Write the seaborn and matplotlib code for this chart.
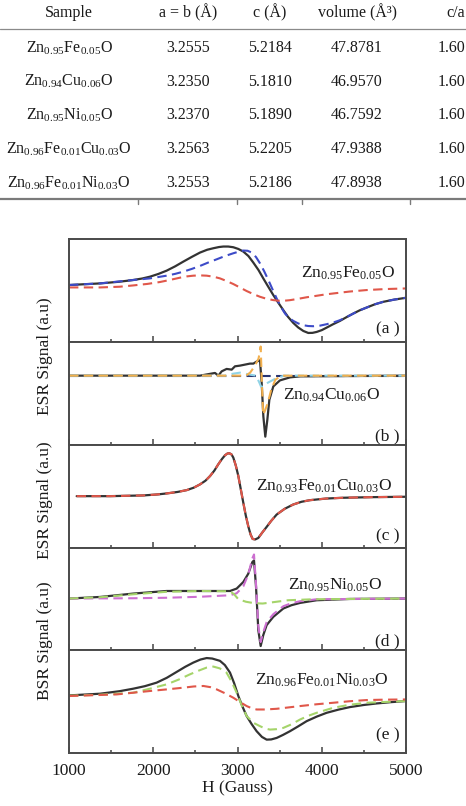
import matplotlib
matplotlib.use('Agg')
import matplotlib.pyplot as plt
from matplotlib.lines import Line2D
import seaborn as sns

# ---------------- table data ----------------
table_headers = ['Sample', 'a = b (Å)', 'c (Å)', 'volume (Å³)', 'c/a']
table_samples = [r'$\mathrm{Zn_{0.95}Fe_{0.05}O}$',
                 r'$\mathrm{Zn_{0.94}Cu_{0.06}O}$',
                 r'$\mathrm{Zn_{0.95}Ni_{0.05}O}$',
                 r'$\mathrm{Zn_{0.96}Fe_{0.01}Cu_{0.03}O}$',
                 r'$\mathrm{Zn_{0.96}Fe_{0.01}Ni_{0.03}O}$']
table_ab = ['3.2555', '3.2350', '3.2370', '3.2563', '3.2553']
table_c = ['5.2184', '5.1810', '5.1890', '5.2205', '5.2186']
table_vol = ['47.8781', '46.9570', '46.7592', '47.9388', '47.8938']
table_ca = ['1.60', '1.60', '1.60', '1.60', '1.60']

# ---------------- ESR data (H in Gauss, signal in a.u.) ----------------
# (a) Zn0.95Fe0.05O
a_H_exp = [1000, 1368, 1600, 1763, 1870, 1961, 2060, 2159, 2260, 2357, 2460, 2555, 2640,
           2713, 2780, 2832, 2890, 2950, 3010, 3069, 3130, 3188, 3250, 3306, 3365, 3425,
           3485, 3544, 3600, 3662, 3720, 3781, 3840, 3890, 3939, 4000, 4058, 4130, 4216,
           4300, 4374, 4450, 4533, 4630, 4731, 4860, 5000]
a_exp = [56.7, 58.3, 60, 61.7, 63.2, 65, 67.7, 71, 75.3, 80, 84.8, 89, 91.8,
         93.3, 94.5, 95, 95, 94.3, 92.6, 90, 85.5, 79, 71.5, 63.3, 55, 46.7,
         39, 31.7, 25, 19, 14.5, 11, 9, 9.1, 10, 11.8, 14.3, 17.5, 21,
         25, 28.3, 31.5, 34.3, 37.5, 40, 42.2, 44]
a_H_fit1 = [1000, 1368, 1763, 1961, 2159, 2260, 2357, 2460, 2555, 2650, 2753, 2850, 2950,
            3010, 3069, 3120, 3168, 3220, 3267, 3316, 3366, 3415, 3465, 3515, 3564, 3612,
            3662, 3720, 3781, 3840, 3900, 3980, 4058, 4140, 4216, 4300, 4374, 4450, 4533,
            4630, 4731, 4860, 5000]
a_fit1 = [56.7, 58.3, 61.7, 63.3, 66, 67.8, 70, 72.8, 75.7, 79, 82.3, 85.5, 88.3,
          89.8, 91, 90.8, 89, 84.5, 78.3, 70.5, 61.7, 52.5, 43.3, 35, 28.3, 24,
          21, 18.5, 16.7, 15.9, 15.7, 16.3, 17.7, 19.5, 21.7, 25, 28.3, 31.5, 34.3,
          37.5, 40, 42.2, 44]
a_H_fit2 = [1000, 1368, 1600, 1763, 1930, 2080, 2200, 2317, 2400, 2476, 2555, 2634, 2715,
            2792, 2870, 2950, 3030, 3109, 3190, 3267, 3345, 3425, 3485, 3544, 3620, 3702,
            3820, 3939, 4040, 4137, 4330, 4533, 4760, 5000]
a_fit2 = [54.3, 54.3, 55, 56.3, 57.8, 59.7, 61.8, 64, 65.3, 66, 66.3, 66, 65,
          63.3, 60.7, 57.7, 54.2, 50.7, 47.6, 45, 43, 41.7, 41.1, 41, 41.6, 42.7,
          44.5, 46, 47.3, 48.3, 50.2, 51.7, 52.7, 53.3]

# (b) Zn0.94Cu0.06O
b_H_exp = [1000, 2555, 2733, 2773, 2812, 2871, 2931, 2970, 3030, 3089, 3148, 3188, 3227,
           3267, 3287, 3307, 3330, 3354, 3378, 3425, 3504, 3623, 3742, 5000]
b_exp = [69, 69, 71.7, 69, 73.3, 75.7, 75, 78.3, 79, 80, 81, 81, 83,
         84.3, 61.7, 28.3, 8.3, 25, 45, 58.3, 64.3, 67.3, 68.3, 69]
b_H_sum = [1000, 5000]
b_sum = [69, 69]
b_H_fit1 = [1000, 3100, 3150, 3200, 3250, 3275, 3290, 3305, 3330, 3360, 3400, 3450, 3520, 5000]
b_fit1 = [69, 69, 72, 78, 86, 98, 60, 30, 35, 42, 55, 65, 69, 69]
b_H_fit2 = [1000, 2850, 2950, 3030, 3150, 3220, 3260, 3280, 3310, 3360, 3450, 3550, 5000]
b_fit2 = [69, 69, 71, 72, 70, 69, 62, 58, 58, 62, 66, 69, 69]

# (c) Zn0.93Fe0.01Cu0.03O
c_H_exp = [1091, 1487, 1882, 2050, 2160, 2290, 2397, 2480, 2555, 2620, 2674, 2725, 2772,
           2815, 2852, 2880, 2903, 2928, 2950, 2980, 3010, 3040, 3069, 3098, 3128, 3155,
           3180, 3210, 3247, 3295, 3346, 3400, 3465, 3560, 3662, 3760, 3860, 4050, 4256,
           4600, 5000]
c_exp = [51.6, 51.6, 52.3, 53.3, 54.3, 55.8, 57.6, 60, 63.3, 67, 71.6, 77, 83.3,
         88.5, 92.3, 94, 94.3, 93.2, 90, 82, 71.6, 58, 45, 32.5, 21.6, 13.5,
         9, 8.5, 10, 15.5, 21, 27, 33.3, 39, 43.3, 46, 47.6, 49.2, 50,
         50.6, 51]

# (d) Zn0.95Ni0.05O
d_H_exp = [1000, 1368, 1763, 2159, 2555, 2911, 2990, 3069, 3128, 3176, 3196, 3220, 3247,
           3275, 3306, 3346, 3425, 3544, 3640, 3742, 3940, 4335, 5000]
d_exp = [51.7, 53.3, 56.7, 59.3, 59.3, 59.3, 61.7, 68.3, 76.7, 88.3, 90, 63.3, 20,
         4, 15, 25, 33.3, 41.7, 45, 47.3, 50, 51.3, 51.7]
d_H_fit1 = [1000, 1763, 2159, 2555, 2911, 2990, 3069, 3128, 3176, 3196, 3220, 3247, 3275,
            3306, 3346, 3425, 3544, 3640, 3742, 3940, 5000]
d_fit1 = [51.7, 52, 52.5, 53.5, 55, 57, 64, 76, 92, 96, 66, 24, 8,
          18, 28, 36, 44, 47, 49, 51, 51.7]
d_H_fit2 = [1000, 1368, 1763, 2159, 2555, 2911, 2960, 3010, 3100, 3200, 3300, 3420, 3600,
            3900, 5000]
d_fit2 = [51.7, 53, 56, 58.5, 59.3, 59, 56, 51, 48.5, 47, 46.7, 48, 50, 51, 51.7]

# (e) Zn0.96Fe0.01Ni0.03O
e_H_exp = [1000, 1368, 1600, 1763, 1900, 2040, 2160, 2278, 2380, 2476, 2560, 2634, 2700,
           2792, 2850, 2911, 2960, 3010, 3060, 3109, 3170, 3227, 3290, 3346, 3400, 3465,
           3540, 3623, 3720, 3821, 3940, 4058, 4200, 4335, 4500, 4651, 4820, 5000]
e_exp = [57.3, 59, 61.5, 64, 66.5, 70, 74.8, 80.7, 85.8, 90, 93, 94.5, 94,
         91.7, 87.5, 80, 69.5, 56.7, 46, 36.7, 28.5, 21.7, 16, 13.3, 13.5, 15,
         18, 21.7, 26.5, 31.7, 36.2, 40, 43.2, 45.7, 47.8, 49.3, 50.6, 51.7]
e_H_fit1 = [1000, 1368, 1763, 1961, 2159, 2300, 2436, 2540, 2634, 2713, 2790, 2870, 2930,
            2990, 3050, 3109, 3190, 3267, 3330, 3386, 3460, 3544, 3640, 3742, 3840, 3939,
            4137, 4330, 4533, 5000]
e_fit1 = [57, 58, 60, 64, 68.3, 73, 78.3, 82, 85, 86, 84.2, 80, 71,
          60, 47.5, 36.7, 30, 26.7, 24.3, 23.3, 23.7, 25, 28.5, 33.3, 37, 40,
          45, 48, 50, 51.7]
e_H_fit2 = [1000, 1565, 1961, 2160, 2357, 2480, 2595, 2680, 2753, 2850, 2950, 3030, 3109,
            3170, 3227, 3330, 3465, 3600, 3742, 3939, 4137, 4330, 4533, 4760, 5000]
e_fit2 = [56.7, 58.3, 61.7, 63.3, 65, 66.2, 66.7, 65.5, 63.3, 59.5, 55, 50.7, 46.7,
          44.5, 43.3, 43.3, 44, 45.3, 46.7, 48.5, 50, 51.5, 52.7, 53.1, 53.3]

sample_labels = [r'$\mathrm{Zn_{0.95}Fe_{0.05}O}$',
                 r'$\mathrm{Zn_{0.94}Cu_{0.06}O}$',
                 r'$\mathrm{Zn_{0.93}Fe_{0.01}Cu_{0.03}O}$',
                 r'$\mathrm{Zn_{0.95}Ni_{0.05}O}$',
                 r'$\mathrm{Zn_{0.96}Fe_{0.01}Ni_{0.03}O}$']
panel_letters = ['(a )', '(b )', '(c )', '(d )', '(e )']
x_ticks = [1000, 2000, 3000, 4000, 5000]
y_labels = ['ESR Signal (a.u)', 'ESR Signal (a.u)', 'BSR Signal (a.u)']

# ---------------- style ----------------
sns.set_theme(style='white')
plt.rcParams['font.family'] = ['Liberation Serif', 'DejaVu Serif']
plt.rcParams['mathtext.fontset'] = 'custom'
plt.rcParams['mathtext.rm'] = 'Liberation Serif'
plt.rcParams['mathtext.it'] = 'Liberation Serif:italic'
plt.rcParams['mathtext.bf'] = 'Liberation Serif:bold'

W, H = 466, 806
fig = plt.figure(figsize=(W / 100, H / 100), dpi=100)
fig.patch.set_facecolor('white')

def fy(py):
    return 1 - py / H

TXT = '#1a1a1a'
# ---------------- table ----------------
col_x = [69, 188, 270, 357]
fs_t = 11.5
for cx, h in zip(col_x, table_headers[:4]):
    fig.text(cx / W, fy(13), h, ha='center', va='center', fontsize=fs_t, color=TXT)
fig.text(465 / W, fy(13), table_headers[4], ha='right', va='center', fontsize=fs_t, color=TXT)
row_y = [48, 81.5, 115, 149, 183]
for i, ry in enumerate(row_y):
    vals = [table_samples[i], table_ab[i], table_c[i], table_vol[i]]
    for cx, v in zip(col_x, vals):
        fig.text(cx / W, fy(ry), v, ha='center', va='center', fontsize=fs_t, color=TXT)
    fig.text(465 / W, fy(ry), table_ca[i], ha='right', va='center', fontsize=fs_t, color=TXT)
fig.add_artist(Line2D([0, 1], [fy(28.5)] * 2, transform=fig.transFigure, color='#8a8a8a', lw=0.9))
fig.add_artist(Line2D([0, 1], [fy(199)] * 2, transform=fig.transFigure, color='#7a7a7a', lw=1.6))
for tx in [138, 237, 302, 410]:
    fig.add_artist(Line2D([tx / W] * 2, [fy(199), fy(204)], transform=fig.transFigure,
                          color='#7a7a7a', lw=1.0))

# ---------------- ESR panels ----------------
left_px, right_px = 69, 406
tops = [239, 342, 445, 548, 650]
bots = [342, 445, 548, 650, 753]

BLACK = '#333333'
BLUE = '#3d4bc8'
RED = '#e0574a'
ORANGE = '#f2b04e'
CYAN = '#8fd3e6'
NAVY = '#283470'
MAG = '#cc6fd0'
GREEN = '#a5d46a'

panel_curves = [
    [(a_H_exp, a_exp, BLACK, '-'), (a_H_fit1, a_fit1, BLUE, '--'), (a_H_fit2, a_fit2, RED, '--')],
    [(b_H_sum, b_sum, NAVY, '--'), (b_H_exp, b_exp, BLACK, '-'), (b_H_fit2, b_fit2, CYAN, '--'),
     (b_H_fit1, b_fit1, ORANGE, '--')],
    [(c_H_exp, c_exp, BLACK, '-'), (c_H_exp, c_exp, RED, '--')],
    [(d_H_exp, d_exp, BLACK, '-'), (d_H_fit1, d_fit1, MAG, '--'), (d_H_fit2, d_fit2, GREEN, '--')],
    [(e_H_exp, e_exp, BLACK, '-'), (e_H_fit1, e_fit1, GREEN, '--'), (e_H_fit2, e_fit2, RED, '--')],
]
label_pos = [(0.967, 0.67), (0.923, 0.485), (0.958, 0.595), (0.929, 0.637), (0.947, 0.709)]
letter_pos = [0.126, 0.08, 0.11, 0.08, 0.17]

axes = []
for i in range(5):
    ax = fig.add_axes([left_px / W, fy(bots[i]), (right_px - left_px) / W, (bots[i] - tops[i]) / H])
    ax.set_facecolor('white')
    for (hx, yy, col, ls) in panel_curves[i]:
        sns.lineplot(x=hx, y=yy, ax=ax, color=col, linestyle=ls, errorbar=None,
                     linewidth=1.5 if ls == '--' else 1.6)
        ln = ax.lines[-1]
        ln.set_solid_joinstyle('round')
        if ls == '--':
            ln.set_dashes((4.5, 2.6))
    ax.set_xlim(1000, 5000)
    ax.set_ylim(0, 102.5)
    ax.set_yticks([])
    ax.set_xticks(x_ticks)
    ax.set_xticks([1500, 2500, 3500, 4500], minor=True)
    ax.tick_params(axis='x', which='major', direction='in', length=4.5, width=1.1,
                   color='#444444', bottom=True, top=False, pad=7, labelsize=12.5, labelcolor=TXT)
    ax.tick_params(axis='x', which='minor', direction='in', length=2.5, width=1.1,
                   color='#444444', bottom=True, top=False)
    for s in ax.spines.values():
        s.set_color('#4a4a4a')
        s.set_linewidth(1.4)
    ax.set_xlabel('')
    ax.set_ylabel('')
    if i < 4:
        ax.tick_params(axis='x', labelbottom=False)
    lx, ly = label_pos[i]
    ax.text(lx, ly, sample_labels[i], transform=ax.transAxes, ha='right', va='center',
            fontsize=12.5, color=TXT)
    ax.text(0.982, letter_pos[i], panel_letters[i], transform=ax.transAxes, ha='right',
            va='center', fontsize=12.5, color=TXT)
    axes.append(ax)

axes[-1].set_xticklabels([str(t) for t in x_ticks])
axes[-1].set_xlabel('H (Gauss)', fontsize=12.5, color=TXT, labelpad=1)

for ylab, cy in zip(y_labels, [356, 500, 641]):
    fig.text(45 / W, fy(cy), ylab, rotation=90, ha='center', va='center', fontsize=12.5, color=TXT)

fig.savefig('out.png', dpi=100, facecolor='white')
